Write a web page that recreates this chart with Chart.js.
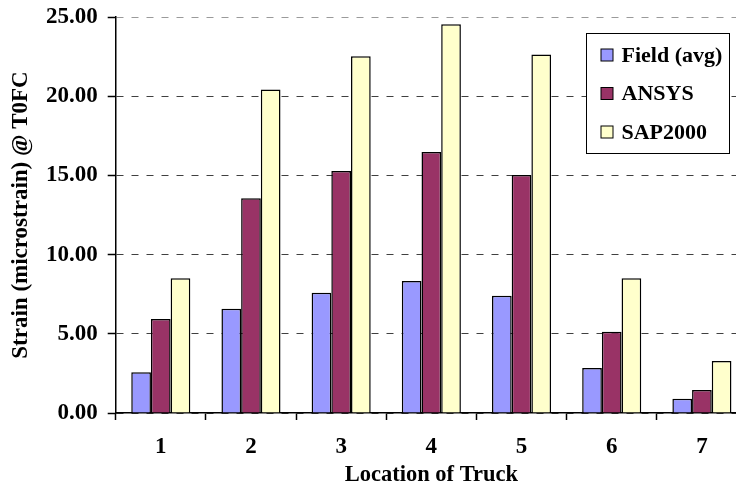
<!DOCTYPE html>
<html>
<head>
<meta charset="utf-8">
<script src="https://cdn.jsdelivr.net/npm/chart.js@4.4.1/dist/chart.umd.min.js"></script>
<style>
  html, body { margin: 0; padding: 0; background: #fff; overflow: hidden; width: 736px; height: 486px; }
  canvas { display: block; }
</style>
</head>
<body>
<canvas id="c" width="750" height="486"></canvas>
<script>
const categories = ['1', '2', '3', '4', '5', '6', '7'];
const fieldAvg = [2.57, 6.58, 7.59, 8.33, 7.40, 2.84, 0.90];
const ansys    = [5.93, 13.55, 15.27, 16.47, 15.02, 5.13, 1.45];
const sap2000  = [8.50, 20.42, 22.52, 24.54, 22.63, 8.50, 3.28];
const seriesLabels = ['Field (avg)', 'ANSYS', 'SAP2000'];
const yTicks = [0, 5, 10, 15, 20, 25];

const FONT = "'Liberation Serif', 'Times New Roman', serif";

const legendBox = {
  id: 'legendBox',
  afterDraw(chart) {
    const ctx = chart.ctx;
    const ca = chart.chartArea;
    const x0 = ca.right - 160.5, y0 = ca.top + 16.5, w = 143, h = 120;
    ctx.save();
    ctx.fillStyle = '#fff';
    ctx.fillRect(x0, y0, w, h);
    ctx.strokeStyle = '#000';
    ctx.lineWidth = 1;
    ctx.strokeRect(x0, y0, w, h);
    ctx.font = 'bold 22px ' + FONT;
    ctx.textBaseline = 'middle';
    ctx.textAlign = 'left';
    chart.data.datasets.forEach((ds, i) => {
      const cy = y0 + 21.5 + i * 38.5;
      ctx.fillStyle = ds.backgroundColor;
      ctx.fillRect(x0 + 14.5, cy - 6, 12, 12);
      ctx.strokeStyle = '#000';
      ctx.lineWidth = 1;
      ctx.strokeRect(x0 + 14.5, cy - 6, 12, 12);
      ctx.fillStyle = '#000';
      ctx.fillText(ds.label, x0 + 35, cy + 1);
    });
    ctx.restore();
  }
};

new Chart(document.getElementById('c'), {
  type: 'bar',
  data: {
    labels: categories,
    datasets: [
      { label: seriesLabels[0], data: fieldAvg, backgroundColor: '#9999FF' },
      { label: seriesLabels[1], data: ansys, backgroundColor: '#993366' },
      { label: seriesLabels[2], data: sap2000, backgroundColor: '#FFFFCC' }
    ]
  },
  options: {
    responsive: false,
    animation: false,
    devicePixelRatio: 1,
    layout: { padding: { left: 10, right: 3, top: 17, bottom: 0 } },
    datasets: {
      bar: {
        categoryPercentage: 0.655,
        barPercentage: 1.0,
        borderColor: '#000',
        borderWidth: 1.5
      }
    },
    plugins: {
      legend: { display: false },
      tooltip: { enabled: false }
    },
    scales: {
      x: {
        type: 'category',
        offset: true,
        afterFit(scale) { scale.height = 73; scale.paddingLeft = 0; scale.paddingRight = 0; },
        grid: {
          offset: true,
          drawOnChartArea: false,
          drawTicks: true,
          tickLength: 7,
          tickColor: '#000',
          tickWidth: 1.5
        },
        border: { display: true, color: '#000', width: 1.5 },
        ticks: {
          color: '#000',
          padding: 13,
          font: { family: FONT, size: 23, weight: 'bold' }
        },
        title: {
          display: true,
          text: 'Location of Truck',
          color: '#000',
          padding: { top: 0, bottom: 0 },
          font: { family: FONT, size: 22.5, weight: 'bold', lineHeight: 1 }
        }
      },
      y: {
        min: 0,
        max: 25,
        afterFit(scale) { scale.width = 105.7; scale.paddingTop = 0; scale.paddingBottom = 0; },
        afterBuildTicks(scale) { scale.ticks = yTicks.map(v => ({ value: v })); },
        grid: {
          color: (ctx) => (ctx.tick && ctx.tick.value === 25) ? '#9a9a9a' : '#404040',
          lineWidth: 1,
          drawTicks: true,
          tickLength: 8,
          tickColor: '#000',
          tickWidth: 1.5
        },
        border: { display: true, color: '#000', width: 1.5, dash: [7, 8] },
        ticks: {
          color: '#000',
          padding: 10,
          font: { family: FONT, size: 23, weight: 'bold' },
          callback: (v) => Number(v).toFixed(2)
        },
        title: {
          display: true,
          text: 'Strain (microstrain) @ T0FC',
          color: '#000',
          padding: { top: 0, bottom: 0 },
          font: { family: FONT, size: 23, weight: 'bold', lineHeight: 1 }
        }
      }
    }
  },
  plugins: [legendBox]
});
</script>
</body>
</html>
